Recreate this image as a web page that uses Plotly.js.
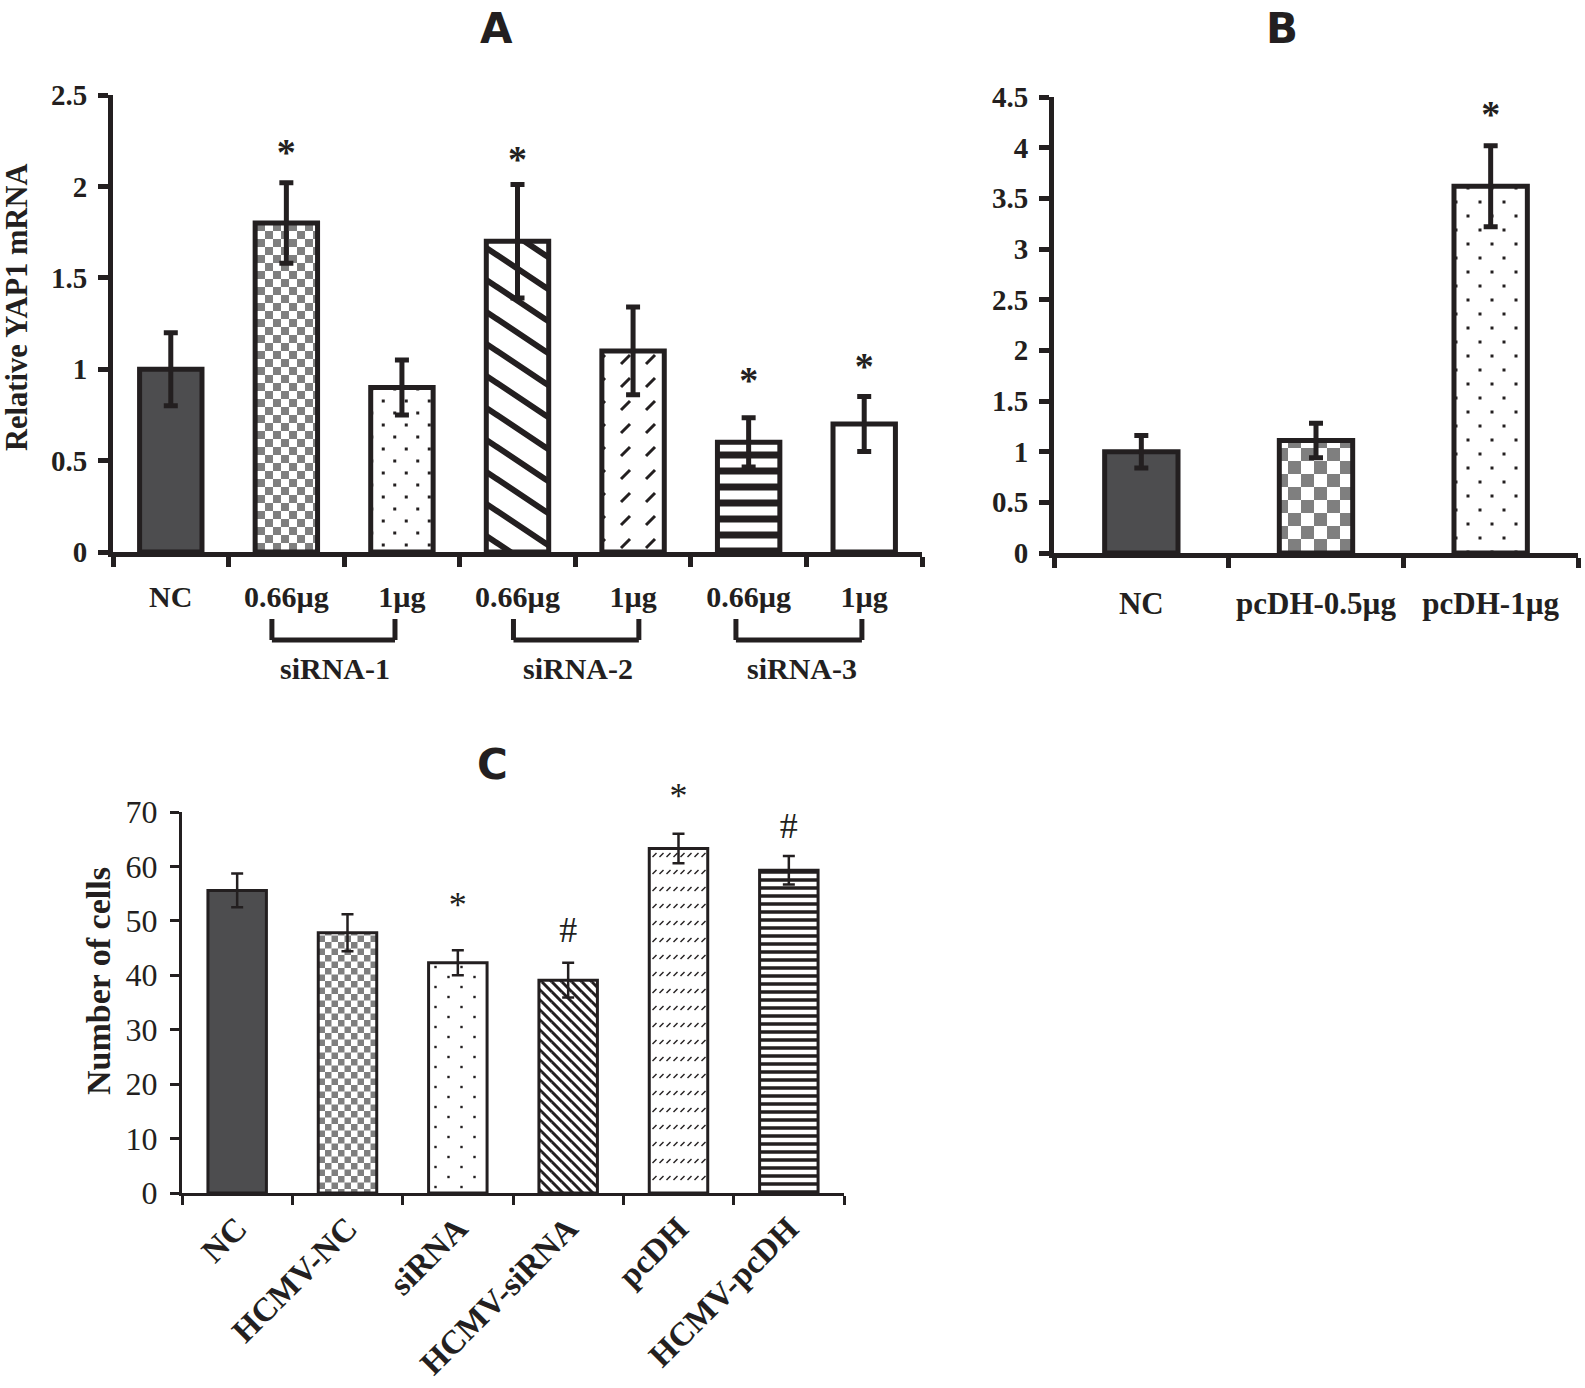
<!DOCTYPE html>
<html><head><meta charset="utf-8">
<script src="https://cdn.plot.ly/plotly-3.0.1.min.js"></script>
<style>html,body{margin:0;padding:0;background:#fff}</style>
</head><body><div id="chart" style="width:1585px;height:1388px"></div>
<script>
// ---------- Panel A ----------
const catsA = ['NC','siRNA-1 0.66µg','siRNA-1 1µg','siRNA-2 0.66µg','siRNA-2 1µg','siRNA-3 0.66µg','siRNA-3 1µg'];
const tickA = ['NC','0.66µg','1µg','0.66µg','1µg','0.66µg','1µg'];
const valA = [1.00, 1.80, 0.90, 1.70, 1.10, 0.60, 0.70];
const errA = [0.20, 0.22, 0.15, 0.31, 0.24, 0.135, 0.15];
const sigA = ['', '*', '', '*', '', '*', '*'];
const sigAy = [null, 2.17, null, 2.13, null, 0.92, 1.00];
const groupsA = ['siRNA-1','siRNA-2','siRNA-3'];
const fillA = ['solid','checkerA','dotsA','diagA','dashA','hlinesA','none'];

// ---------- Panel B ----------
const catsB = ['NC','pcDH-0.5µg','pcDH-1µg'];
const valB = [1.00, 1.11, 3.62];
const errB = [0.16, 0.17, 0.40];
const sigB = ['', '', '*'];
const sigBy = [null, null, 4.30];
const fillB = ['solid','checkerB','dotsB'];

// ---------- Panel C ----------
const catsC = ['NC','HCMV-NC','siRNA','HCMV-siRNA','pcDH','HCMV-pcDH'];
const valC = [55.6, 47.8, 42.3, 39.1, 63.3, 59.3];
const errC = [3.1, 3.4, 2.3, 3.2, 2.7, 2.6];
const sigC = ['', '', '*', '#', '*', '#'];
const sigCy = [null, null, 52.4, 47.8, 72.3, 66.8];
const fillC = ['solid','checkerC','dotsC','diagC','slashRowsC','hlinesC'];

// ---------- styling ----------
const DARK = '#231f20';
const BARGRAY = '#4d4d4f';
const CHKGRAY = '#7f7f7f';
const SERIF = 'Liberation Serif, Times New Roman, serif';
const W = 1585, H = 1388;
const px = x => x / W;
const py = y => 1 - y / H;

function colorsFor(fills){ return fills.map(f => f === 'solid' ? BARGRAY : '#ffffff'); }
function shapesFor(fills){ return fills.map(f => (f === 'solid' || f === 'none') ? '' : '+'); }

// custom pattern tiles
const bg = (w,h) => `<rect x="0" y="0" width="${w}" height="${h}" fill="#ffffff"/>`;
function checker(c){ const s = 2*c; return {w:s,h:s,svg: bg(s,s)+`<rect x="0" y="0" width="${c}" height="${c}" fill="${CHKGRAY}"/><rect x="${c}" y="${c}" width="${c}" height="${c}" fill="${CHKGRAY}"/>`}; }
function dots(w,h,d){ return {w,h,svg: bg(w,h)+`<rect x="${w/4-d/2}" y="${h/4-d/2}" width="${d}" height="${d}" fill="${DARK}"/><rect x="${3*w/4-d/2}" y="${3*h/4-d/2}" width="${d}" height="${d}" fill="${DARK}"/>`}; }
function diag(w,h,sw){ return {w,h,svg: bg(w,h)+`<path d="M0,0L${w},${h}M0,${-h}L${w},0M0,${h}L${w},${2*h}M${-w},0L0,${h}M${w},0L${2*w},${h}" stroke="${DARK}" stroke-width="${sw}" fill="none"/>`}; }
function hlines(h,t){ const w = 6; return {w,h,svg: bg(w,h)+`<rect x="0" y="${(h-t)/2}" width="${w}" height="${t}" fill="${DARK}"/>`}; }
function slash(w,h,x0,y0,x1,y1,sw){ return {w,h,svg: bg(w,h)+`<path d="M${x0},${y0}L${x1},${y1}" stroke="${DARK}" stroke-width="${sw}" stroke-linecap="butt" fill="none"/>`}; }

const tiles = {
  checkerA: checker(8),
  dotsA: dots(23, 24, 3),
  diagA: diag(48, 32, 6),
  dashA: slash(25, 23, 8, 16, 17, 7, 3),
  hlinesA: hlines(16, 7),
  checkerB: checker(13),
  dotsB: dots(24, 28, 3),
  checkerC: checker(6.5),
  dotsC: dots(26, 20, 2.4),
  diagC: diag(10, 10, 3),
  slashRowsC: slash(7, 17, 1.5, 11, 5.5, 7, 1.4),
  hlinesC: hlines(8, 3.5)
};

function barTrace(cats, vals, errs, fills, xa, ya, lw, ew, ecap, width){
  return {
    type: 'bar', x: cats, y: vals, xaxis: xa, yaxis: ya, width: width,
    customdata: fills,
    marker: { color: colorsFor(fills), line: {color: DARK, width: lw},
              pattern: {shape: shapesFor(fills), fgcolor: DARK, bgcolor: '#ffffff', size: 10, solidity: 0.3} },
    error_y: { type: 'data', array: errs, visible: true, color: DARK, thickness: ew, width: ecap },
    hoverinfo: 'skip', showlegend: false
  };
}
function sigTrace(cats, ys, txt, xa, ya, size, weight){
  return { type: 'scatter', mode: 'text', x: cats, y: ys, text: txt, xaxis: xa, yaxis: ya,
    textposition: 'middle center', cliponaxis: false,
    textfont: {family: SERIF, size: size, color: DARK, weight: weight}, hoverinfo: 'skip', showlegend: false };
}

const data = [
  barTrace(catsA, valA, errA, fillA, 'x', 'y', 5, 5, 7, 0.54),
  sigTrace(catsA, sigAy, sigA, 'x', 'y', 38, 'bold'),
  barTrace(catsB, valB, errB, fillB, 'x2', 'y2', 5, 5, 7, 0.42),
  sigTrace(catsB, sigBy, sigB, 'x2', 'y2', 38, 'bold'),
  barTrace(catsC, valC, errC, fillC, 'x3', 'y3', 3, 2.5, 6, 0.53),
  sigTrace(catsC, sigCy, sigC, 'x3', 'y4', 36, 'normal')
];

function xAxis(dom, anchor, cats, ticks, fsize, lw, tlen, standoff, angle, bold){
  return { domain: dom, anchor: anchor, type: 'category', range: [-0.5, cats.length - 0.5],
    tickmode: 'array', tickvals: cats, ticktext: ticks, tickson: 'boundaries',
    ticks: 'outside', ticklen: tlen, tickwidth: lw, tickcolor: DARK,
    showline: true, linewidth: lw, linecolor: DARK, showgrid: false, zeroline: false,
    tickangle: angle, ticklabelstandoff: standoff,
    tickfont: {family: SERIF, size: fsize, color: DARK, weight: bold ? 'bold' : 'normal'},
    fixedrange: true };
}
function yAxis(dom, anchor, range, dtick, fsize, lw, tlen, standoff, bold){
  return { domain: dom, anchor: anchor, range: range, dtick: dtick, tick0: 0,
    ticks: 'outside', ticklen: tlen, tickwidth: lw, tickcolor: DARK,
    showline: true, linewidth: lw, linecolor: DARK, showgrid: false, zeroline: false,
    ticklabelstandoff: standoff,
    tickfont: {family: SERIF, size: fsize, color: DARK, weight: bold ? 'bold' : 'normal'},
    fixedrange: true };
}

// bracket positions (category index units) and group label positions
const bracketA = [[0.875, 1.94], [2.965, 4.05], [4.89, 5.98]];
const groupXA = [1.42, 3.52, 5.46];

const shapes = [];
bracketA.forEach(([a, b]) => {
  const yt = py(619), yb = py(640);
  const line = {color: DARK, width: 5};
  shapes.push({type:'line', xref:'x', yref:'paper', x0:a, x1:a, y0:yt, y1:yb, line});
  shapes.push({type:'line', xref:'x', yref:'paper', x0:b, x1:b, y0:yt, y1:yb, line});
  shapes.push({type:'line', xref:'x', yref:'paper', x0:a, x1:b, y0:yb, y1:yb, line});
});

const titleFont = {family:'DejaVu Sans', size:42, weight:'bold', color:DARK};
const mid = {xref:'paper', yref:'paper', showarrow:false, xanchor:'center', yanchor:'middle'};
const annotations = [
  Object.assign({text:'A', x:px(496), y:py(28), font:titleFont}, mid),
  Object.assign({text:'B', x:px(1282), y:py(28), font:titleFont}, mid),
  Object.assign({text:'C', x:px(492), y:py(765), font:titleFont}, mid),
  Object.assign({text:'Relative YAP1 mRNA', x:px(17), y:py(308), textangle:-90, font:{family:SERIF, size:30.5, weight:'bold', color:DARK}}, mid),
  Object.assign({text:'Number of cells', x:px(98), y:py(981), textangle:-90, font:{family:SERIF, size:34, weight:'bold', color:DARK}}, mid)
];
groupsA.forEach((g, i) => annotations.push({text:g, x:groupXA[i], y:py(668), xref:'x', yref:'paper', showarrow:false,
  xanchor:'center', yanchor:'middle', font:{family:SERIF, size:30, weight:'bold', color:DARK}}));

// invisible companion axis for panel C with the same scale (px per unit), extended upward
const cBottom = 1193, cTop = 812, cMax = 70, cExt = 80;
const cExtTop = cBottom - cExt * (cBottom - cTop) / cMax;

const layout = {
  width: W, height: H, margin: {l:0, r:0, t:0, b:0},
  paper_bgcolor: '#ffffff', plot_bgcolor: 'rgba(0,0,0,0)',
  showlegend: false, bargap: 0.4,
  xaxis:  xAxis([px(113), px(922)], 'y', catsA, tickA, 30, 5, 10, 14, 0, true),
  yaxis:  yAxis([py(552), py(95)], 'x', [0, 2.5], 0.5, 29, 5, 10, 5, true),
  xaxis2: xAxis([px(1054), px(1578)], 'y2', catsB, catsB, 31, 5, 10, 19, 0, true),
  yaxis2: yAxis([py(553), py(97)], 'x2', [0, 4.5], 0.5, 29, 5, 10, 5, true),
  xaxis3: xAxis([px(182), px(844)], 'y3', catsC, catsC, 33, 3, 9, 0, -45, true),
  yaxis3: yAxis([py(cBottom), py(cTop)], 'x3', [0, cMax], 10, 32, 3, 9, 6, false),
  yaxis4: {domain: [py(cBottom), py(cExtTop)], anchor: 'x3', range: [0, cExt], visible: false, fixedrange: true},
  shapes: shapes, annotations: annotations
};

function applyTiles(gd){
  const pts = gd.querySelectorAll('.barlayer .trace .point');
  pts.forEach(g => {
    const d = g.__data__;
    const trEl = g.closest('.trace');
    if (!d || !trEl || !trEl.__data__) return;
    const trace = trEl.__data__[0].trace;
    const kind = trace.customdata ? trace.customdata[d.i] : null;
    const tile = kind && tiles[kind];
    if (!tile) return;
    const path = g.querySelector('path') || g;
    const fill = path.style.fill || path.getAttribute('fill') || '';
    const m = fill.match(/#([^"')\s]+)/);
    if (!m) return;
    const pat = document.getElementById(m[1]);
    if (!pat) return;
    pat.setAttribute('width', tile.w);
    pat.setAttribute('height', tile.h);
    pat.setAttribute('patternUnits', 'userSpaceOnUse');
    pat.innerHTML = tile.svg;
    path.style.fillOpacity = 1;
  });
}

Plotly.newPlot('chart', data, layout, {staticPlot: true, responsive: false}).then(applyTiles);
</script></body></html>
